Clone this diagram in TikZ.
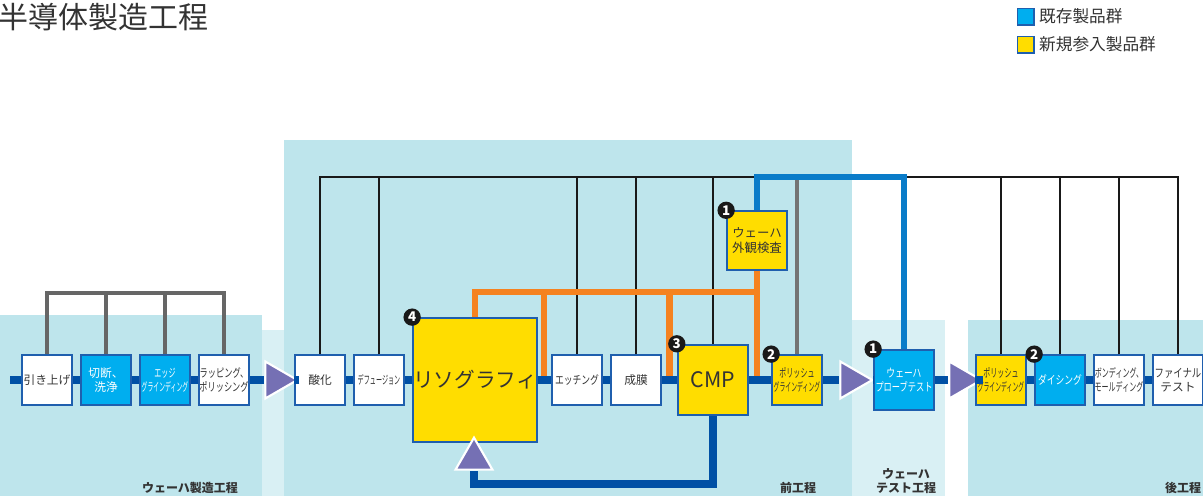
\documentclass[tikz,border=0pt]{standalone}
\usepackage{fontspec}
\usepackage{graphicx}
\setmainfont{Noto Sans CJK JP}
\usetikzlibrary{arrows.meta,shapes.geometric,calc}
\definecolor{bgblue}{HTML}{BEE5EC}
\definecolor{bgpale}{HTML}{D9F0F4}
\definecolor{procblue}{HTML}{00AEEF}
\definecolor{procyellow}{HTML}{FFDD00}
\definecolor{edgeblue}{HTML}{1F5FAE}
\definecolor{mainblue}{HTML}{0050A5}
\definecolor{linkblue}{HTML}{0A7CC9}
\definecolor{linkorange}{HTML}{F58220}
\definecolor{flowpurple}{HTML}{7570B4}
\definecolor{txtgray}{HTML}{333333}
\newcommand{\nw}[2][0.7]{\scalebox{#1}[1]{#2}}

\begin{document}
\begin{tikzpicture}[x=0.75pt,y=-0.75pt,
  box/.style={draw=edgeblue,line width=1.3pt,fill=white,text=txtgray,
    minimum width=37.5pt,minimum height=37.5pt,inner sep=0pt,align=center,
    font=\fontsize{8.8}{10.8}\selectfont},
  oldbox/.style={box,fill=procblue,text=white},
  newbox/.style={box,fill=procyellow},
  num/.style={circle,fill=black!90,text=white,inner sep=0pt,minimum size=13pt,
    font=\fontsize{10}{10}\bfseries\selectfont},
  flow/.style={isosceles triangle,isosceles triangle apex angle=60,fill=flowpurple,
    draw=white,line width=1.6pt,minimum height=24pt,inner sep=0pt},
  mainline/.style={mainblue,line width=6pt},
  kline/.style={black!90,line width=1.6pt},
  gline/.style={black!60,line width=2.3pt},
  bline/.style={linkblue,line width=5pt},
  oline/.style={linkorange,line width=5pt},
  stage/.style={font=\fontsize{9}{10.5}\bfseries\selectfont,text=txtgray,align=center}]
  \useasboundingbox (0,0) rectangle (1203,496);
  % backgrounds
  \fill[bgblue] (0,315) rectangle (262,496);
  \fill[bgpale] (262,330) rectangle (284,496);
  \fill[bgblue] (284,140) rectangle (852,496);
  \fill[bgpale] (852,320) rectangle (945,496);
  \fill[bgblue] (968,320) rectangle (1203,496);
  % title and legend
  \node[anchor=west,inner sep=0pt,text=txtgray,font=\fontsize{22.5}{24}\selectfont] (title) at (-2,17) {半導体製造工程};
  \node[draw=edgeblue,line width=1pt,fill=procblue,minimum size=12.5pt,inner sep=0pt] (keyold) at (1025.5,16.5) {};
  \node[draw=edgeblue,line width=1pt,fill=procyellow,minimum size=12.5pt,inner sep=0pt] (keynew) at (1025.5,44.5) {};
  \node[anchor=west,text=txtgray,font=\fontsize{12.5}{14}\selectfont] at (keyold.east) {既存製品群};
  \node[anchor=west,text=txtgray,font=\fontsize{12.5}{14}\selectfont] at (keynew.east) {新規参入製品群};
  % process boxes
  \node[box] (hikiage) at (47,380) {引き上げ};
  \node[oldbox] (setsudan) at (106,380) {切断、\\洗浄};
  \node[oldbox] (edge) at (165,380) {\nw[0.6]{エッジ}\\\nw[0.5]{グラインディング}};
  \node[box] (lapping) at (224,380) {\nw{ラッピング、}\\\nw{ポリッシング}};
  \node[flow] (tri1) at (276,380) {};
  \node[box] (sanka) at (320,380) {酸化};
  \node[box] (diff) at (379,380) {\nw[0.52]{デフュージョン}};
  \node[newbox,minimum width=93pt,minimum height=93pt,font=\fontsize{15.5}{17}\selectfont] (litho) at (475,380) {リソグラフィ};
  \node[box] (etch) at (577,380) {\nw[0.75]{エッチング}};
  \node[box] (seimaku) at (636,380) {成膜};
  \node[newbox,minimum width=53pt,minimum height=53pt,font=\fontsize{16}{18}\selectfont] (cmp) at (713,380) {CMP};
  \node[newbox] (polish1) at (797,380) {\nw[0.6]{ポリッシュ}\\\nw[0.5]{グラインディング}};
  \node[flow] (tri2) at (851,380) {};
  \node[oldbox,minimum width=45pt,minimum height=45pt] (probe) at (904,380) {\nw[0.75]{ウェーハ}\\\nw[0.7]{プローブテスト}};
  \node[flow] (tri3) at (960,380) {};
  \node[newbox] (polish2) at (1001,380) {\nw[0.6]{ポリッシュ}\\\nw[0.5]{グラインディング}};
  \node[oldbox] (dicing) at (1060,380) {\nw[0.75]{ダイシング}};
  \node[box] (bonding) at (1119,380) {\nw[0.6]{ボンディング、}\\\nw[0.6]{モールディング}};
  \node[box] (final) at (1178,380) {\nw[0.8]{ファイナル}\\テスト};
  \node[newbox,minimum width=45pt,minimum height=44pt,font=\fontsize{9.3}{11.8}\selectfont] (gaikan) at (757,240.5) {ウェーハ\\外観検査};
  \node[flow,shape border rotate=90] (tri4) at (474,459) {};
  % connectors
  \coordinate (gtop) at (0,293);
  \coordinate (btop) at (0,177);
  \coordinate (otop) at (0,292);
  \coordinate (low) at (0,484);
  \coordinate (lstart) at (10,380);
  \coordinate (lend) at (1203,380);
  \draw[gline] (hikiage.north) |- (lapping |- gtop) -- (lapping.north);
  \foreach \n in {setsudan,edge} \draw[gline] (\n.north) -- (\n |- gtop);
  \draw[kline] (sanka.north) |- (final |- btop) -- (final.north);
  \foreach \n in {diff,etch,seimaku,cmp,polish2,dicing,bonding} \draw[kline] (\n.north) -- (\n |- btop);
  \draw[gline,black!55] (polish1.north) -- (polish1 |- btop);
  \draw[bline] (gaikan.north) |- (probe |- btop) -- (probe.north);
  \draw[oline] (litho.north) |- (gaikan |- otop);
  \draw[oline] (gaikan.south) -- (gaikan |- lstart);
  \draw[oline] ($(litho.east |- otop)+(6,0)$) -- ($(litho.east)+(6,0)$);
  \draw[oline] ($(cmp.west |- otop)+(-7,0)$) -- ($(cmp.west)+(-7,0)$);
  \draw[mainline] (lstart) -- (hikiage) -- (setsudan) -- (edge) -- (lapping) -- (tri1) -- (sanka)
    -- (diff) -- (litho) -- (etch) -- (seimaku) -- (cmp) -- (polish1) -- (tri2) -- (probe)
    -- (tri3) -- (polish2) -- (dicing) -- (bonding) -- (final) -- (lend);
  \draw[mainline] (cmp) |- (tri4 |- low) -- (tri4);
  % markers
  \node[num] at (litho.north west) {4};
  \node[num] at (cmp.north west) {3};
  \node[num] at (polish1.north west) {2};
  \node[num] at (probe.north west) {1};
  \node[num] at (dicing.north west) {2};
  \node[num] at (gaikan.north west) {1};
  % stages
  \node[stage] at (190,488) {ウェーハ製造工程};
  \node[stage] at (798,488) {前工程};
  \node[stage] at (906,481) {ウェーハ\\テスト工程};
  \node[stage] at (1183,488) {後工程};
\end{tikzpicture}
\end{document}
